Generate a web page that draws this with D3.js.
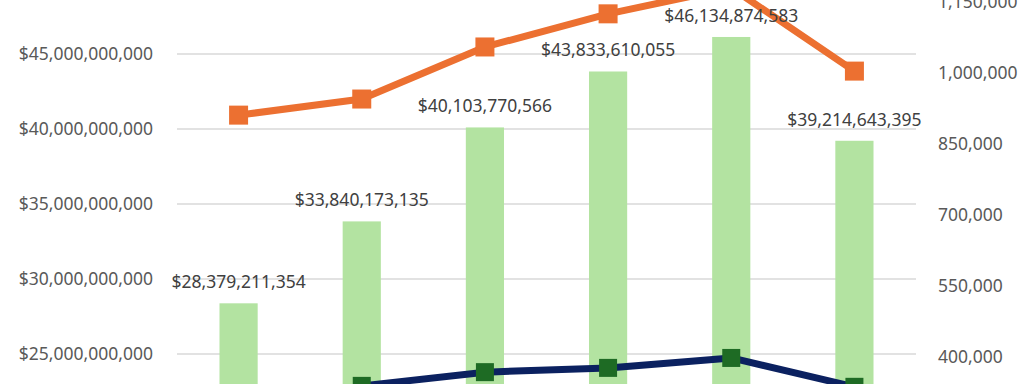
<!DOCTYPE html>
<html>
<head>
<meta charset="utf-8">
<script src="https://cdn.jsdelivr.net/npm/d3@7"></script>
<style>
    body { margin: 0; background: #ffffff; }
    svg { display: block; overflow: hidden; }
</style>
</head>
<body>
<div id="chart"></div>
<script>
// values
const categories = ["2015", "2016", "2017", "2018", "2019", "2020"];
const revenue = [28379211354, 33840173135, 40103770566, 43833610055, 46134874583, 39214643395];
const orangeSeries = [911000, 945000, 1055000, 1125000, 1180000, 1004000];
const navySeries = [268000, 339000, 368000, 377000, 398000, 337000];
const leftTicks = [25e9, 30e9, 35e9, 40e9, 45e9];
const rightTicks = [400000, 550000, 700000, 850000, 1000000, 1150000];

function main() {
    const canvasWidth = 1024;
    const canvasHeight = 384;
    const font = "'Noto Sans', 'Open Sans', sans-serif";

    const svg = d3.select("#chart").append("svg")
        .attr("width", canvasWidth)
        .attr("height", canvasHeight)

    const x = d3.scaleBand()
        .domain(categories)
        .range([177, 916])
        .paddingInner(0.69)
        .paddingOuter(0.345)

    const yLeft = d3.scaleLinear()
        .domain([25e9, 45e9])
        .range([354, 54])

    const yRight = d3.scaleLinear()
        .domain([400000, 1000000])
        .range([357, 73])

    const money = d3.format("$,.0f");
    const plain = d3.format(",.0f");

    // gridlines
    svg.append("g")
        .selectAll("line")
        .data(leftTicks)
        .join("line")
        .attr("x1", 177)
        .attr("x2", 916)
        .attr("y1", d => yLeft(d))
        .attr("y2", d => yLeft(d))
        .attr("stroke", "#d9d9d9")
        .attr("stroke-width", 1.3)

    // left axis
    const left = svg.append("g")
        .attr("transform", "translate(153,0)")
        .call(d3.axisLeft(yLeft).tickValues(leftTicks).tickFormat(money).tickSize(0).tickPadding(0))
    left.select(".domain").remove()
    left.selectAll("text")
        .attr("font-family", font)
        .attr("font-size", "17.5px")
        .attr("fill", "#595959")

    // right axis
    const right = svg.append("g")
        .attr("transform", "translate(938,0)")
        .call(d3.axisRight(yRight).tickValues(rightTicks).tickFormat(plain).tickSize(0).tickPadding(0))
    right.select(".domain").remove()
    right.selectAll("text")
        .attr("font-family", font)
        .attr("font-size", "17.5px")
        .attr("fill", "#595959")

    // bars
    svg.append("g")
        .selectAll("rect")
        .data(revenue)
        .join("rect")
        .attr("x", (d, i) => x(categories[i]))
        .attr("y", d => yLeft(d))
        .attr("width", x.bandwidth())
        .attr("height", d => yLeft(0) - yLeft(d))
        .attr("fill", "#b3e3a1")

    const cx = (i) => x(categories[i]) + x.bandwidth() / 2;

    // orange line
    const orangeLine = d3.line()
        .x((d, i) => cx(i))
        .y(d => yRight(d))
    svg.append("path")
        .datum(orangeSeries)
        .attr("d", orangeLine)
        .attr("fill", "none")
        .attr("stroke", "#ec7031")
        .attr("stroke-width", 7)
        .attr("stroke-linejoin", "round")
    svg.append("g")
        .selectAll("rect")
        .data(orangeSeries)
        .join("rect")
        .attr("x", (d, i) => cx(i) - 9.5)
        .attr("y", d => yRight(d) - 9.5)
        .attr("width", 19)
        .attr("height", 19)
        .attr("fill", "#ec7031")

    // navy line with green markers
    const navyLine = d3.line()
        .x((d, i) => cx(i))
        .y(d => yRight(d))
    svg.append("path")
        .datum(navySeries)
        .attr("d", navyLine)
        .attr("fill", "none")
        .attr("stroke", "#0b2160")
        .attr("stroke-width", 7)
        .attr("stroke-linejoin", "round")
    svg.append("g")
        .selectAll("rect")
        .data(navySeries)
        .join("rect")
        .attr("x", (d, i) => cx(i) - 9)
        .attr("y", d => yRight(d) - 9)
        .attr("width", 18)
        .attr("height", 18)
        .attr("fill", "#1e6b24")

    // bar labels sit on top of the lines
    svg.append("g")
        .selectAll("text")
        .data(revenue)
        .join("text")
        .attr("x", (d, i) => cx(i))
        .attr("y", d => yLeft(d) - 15)
        .attr("text-anchor", "middle")
        .attr("font-family", font)
        .attr("font-size", "17.5px")
        .attr("fill", "#404040")
        .text(d => money(d))
}
main();
</script>
</body>
</html>
